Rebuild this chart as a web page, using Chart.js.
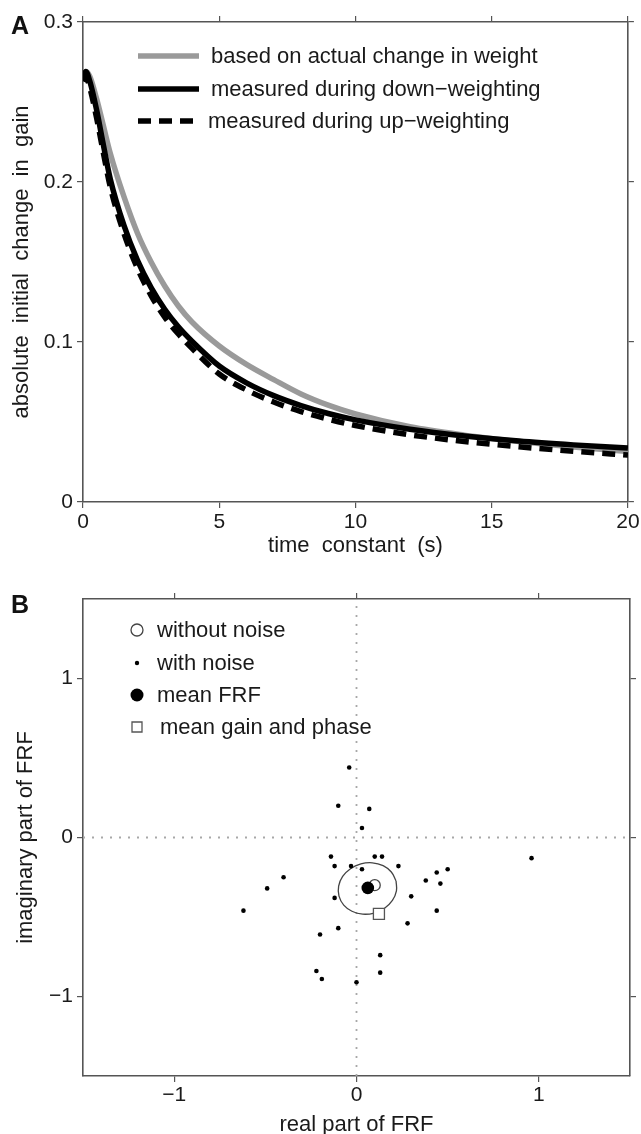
<!DOCTYPE html>
<html>
<head>
<meta charset="utf-8">
<title>Gain change and FRF</title>
<script src="https://cdn.jsdelivr.net/npm/chart.js@4.4.0/dist/chart.umd.min.js"></script>
<style>
    html, body { margin: 0; padding: 0; background: #fff; overflow: hidden; }
    #page { position: relative; width: 641px; height: 1134px; overflow: hidden; }
    canvas { position: absolute; left: 0; }
    #chartA { top: 0; }
    #chartB { top: 560px; }
    .panel { position: absolute; font: bold 25px "Liberation Sans", Arial, sans-serif; line-height: 1; color: #111; }
</style>
</head>
<body>
<div id="page">
    <canvas id="chartA" width="641" height="560"></canvas>
    <canvas id="chartB" width="641" height="600"></canvas>
    <div class="panel" style="left:11px;top:13px">A</div>
    <div class="panel" style="left:11px;top:592px">B</div>
</div>
<script>
// ---- panel A: absolute initial change in gain vs time constant ----
const timeConst  = [0, 0.1, 0.25, 0.5, 0.75, 1, 1.5, 2, 2.5, 3, 3.5, 4, 5, 6, 7, 8, 9, 10, 12, 14, 16, 18, 20];
const gainActual = [0.266, 0.269, 0.266, 0.252, 0.235, 0.218, 0.191, 0.168, 0.150, 0.135, 0.1225, 0.1125, 0.0975, 0.0860, 0.0765, 0.0675, 0.0605, 0.0550, 0.0470, 0.0418, 0.0378, 0.0344, 0.0315];
const gainDown   = [0.266, 0.269, 0.263, 0.245, 0.223, 0.202, 0.173, 0.151, 0.134, 0.1205, 0.1095, 0.1005, 0.0850, 0.0745, 0.0665, 0.0603, 0.0553, 0.0513, 0.0455, 0.0413, 0.0381, 0.0357, 0.0337];
const gainUp     = [0.263, 0.266, 0.259, 0.240, 0.218, 0.197, 0.168, 0.146, 0.129, 0.1155, 0.105, 0.096, 0.080, 0.0700, 0.0625, 0.0565, 0.0518, 0.0478, 0.0420, 0.0378, 0.0345, 0.0317, 0.0293];
const xTicksA = [0, 5, 10, 15, 20];
const xTickLabelsA = ["0", "5", "10", "15", "20"];
const yTicksA = [0, 0.1, 0.2, 0.3];
const yTickLabelsA = ["0", "0.1", "0.2", "0.3"];

// ---- panel B: real / imaginary part of FRF ----
const noiseRe = [-0.04, -0.10, 0.07, 0.03, -0.14, 0.10, 0.14, -0.12, -0.03, 0.03, 0.23, 0.50, 0.44, -0.40, 0.38, 0.46, -0.49, -0.12, 0.30, -0.62, 0.44, 0.28, -0.10, -0.20, 0.13, 0.13, -0.22, -0.19, 0.96, 0.00];
const noiseIm = [0.44, 0.20, 0.18, 0.06, -0.12, -0.12, -0.12, -0.18, -0.18, -0.20, -0.18, -0.20, -0.22, -0.25, -0.27, -0.29, -0.32, -0.38, -0.37, -0.46, -0.46, -0.54, -0.57, -0.61, -0.74, -0.85, -0.84, -0.89, -0.13, -0.91];
const cleanRe = [0.10];
const cleanIm = [-0.30];
const meanFrfRe = [0.062];
const meanFrfIm = [-0.317];
const meanGainRe = [0.123];
const meanGainIm = [-0.48];
// spread ellipse round the mean FRF (closed loop)
const ellRe = [0.217, 0.219, 0.197, 0.154, 0.097, 0.034, -0.025, -0.070, -0.096, -0.098, -0.076, -0.033, 0.024, 0.087, 0.146, 0.191, 0.217];
const ellIm = [-0.273, -0.336, -0.396, -0.445, -0.475, -0.482, -0.464, -0.425, -0.369, -0.306, -0.245, -0.196, -0.166, -0.159, -0.177, -0.217, -0.273];
const axisSpanB = [-1.5, 1.5];
const ticksB = [-1, 0, 1];
const tickLabelsB = ["\u22121", "0", "1"];

const FONT = '"Liberation Sans", Arial, Helvetica, sans-serif';
const INK = "#1a1a1a";
const AXIS = "#555";

function pts(xs, ys) {
    return xs.map((x, i) => ({ x: x, y: ys[i] }));
}

function setTicks(values) {
    return function (scale) {
        scale.ticks = values.map(v => ({ value: v }));
    };
}

function fixSize(n) {
    return function (scale) {
        if (scale.isHorizontal()) scale.height = n;
        else scale.width = n;
    };
}

// an axis of the box: tick marks outside, labels only where asked
function boxAxis(position, min, max, ticks, size, labels, title, tickPad, titlePad) {
    const axis = {
        type: "linear",
        position: position,
        min: min,
        max: max,
        afterBuildTicks: setTicks(ticks),
        afterFit: fixSize(size),
        grid: { drawOnChartArea: false, drawTicks: true, tickLength: 6, color: AXIS, lineWidth: 1.2 },
        border: { display: true, color: AXIS, width: 1.6 },
        ticks: { display: false }
    };
    if (labels) {
        axis.ticks = {
            display: true,
            padding: tickPad,
            color: INK,
            font: { family: FONT, size: 21 },
            maxRotation: 0,
            autoSkip: false,
            callback: (v, i) => labels[i]
        };
    }
    if (title) {
        axis.title = {
            display: true,
            text: title,
            color: INK,
            font: { family: FONT, size: 22 },
            padding: titlePad
        };
    }
    return axis;
}

// legend drawn inside the plot box
const insideLegend = {
    id: "insideLegend",
    afterDatasetsDraw(chart, args, opts) {
        if (!opts || !opts.rows) return;
        const ctx = chart.ctx;
        ctx.save();
        ctx.font = "22px " + FONT;
        ctx.textBaseline = "middle";
        chart.data.datasets.forEach(ds => {
            if (ds.legendRow === undefined) return;
            const y = opts.rows[ds.legendRow];
            if (opts.kind === "line") {
                ctx.save();
                ctx.strokeStyle = ds.borderColor;
                ctx.lineWidth = ds.borderWidth;
                ctx.setLineDash(ds.borderDash || []);
                ctx.beginPath();
                ctx.moveTo(opts.left, y);
                ctx.lineTo(opts.left + opts.sample, y);
                ctx.stroke();
                ctx.restore();
            } else {
                ctx.save();
                ctx.fillStyle = ds.backgroundColor;
                ctx.strokeStyle = ds.borderColor;
                ctx.lineWidth = ds.borderWidth;
                ctx.beginPath();
                if (ds.pointStyle === "rect") {
                    ctx.rect(opts.left - 5, y - 5, 10, 10);
                } else {
                    ctx.arc(opts.left, y, ds.legendRadius, 0, Math.PI * 2);
                }
                ctx.fill();
                if (ds.borderWidth > 0) ctx.stroke();
                ctx.restore();
            }
            ctx.fillStyle = INK;
            ctx.fillText(ds.label, opts.textX[ds.legendRow], y + 1);
        });
        ctx.restore();
    }
};

new Chart(document.getElementById("chartA"), {
    type: "line",
    data: {
        datasets: [
            {
                label: "based on actual change in weight",
                data: pts(timeConst, gainActual),
                borderColor: "#9a9a9a",
                borderWidth: 5.5,
                order: 3,
                legendRow: 0
            },
            {
                label: "measured during down\u2212weighting",
                data: pts(timeConst, gainDown),
                borderColor: "#000",
                borderWidth: 5.5,
                order: 1,
                legendRow: 1
            },
            {
                label: "measured during up\u2212weighting",
                data: pts(timeConst, gainUp),
                borderColor: "#000",
                borderWidth: 5.5,
                borderDash: [13, 8],
                order: 2,
                legendRow: 2
            }
        ]
    },
    options: {
        responsive: false,
        animation: false,
        devicePixelRatio: 1,
        layout: { padding: { top: 16, right: 6, bottom: 0, left: 0 } },
        elements: {
            point: { radius: 0 },
            line: { cubicInterpolationMode: "monotone", fill: false }
        },
        scales: {
            x: boxAxis("bottom", 0, 20, xTicksA, 58, xTickLabelsA, "time  constant  (s)", 1.4, { top: 0, bottom: 0.8 }),
            y: boxAxis("left", 0, 0.3, yTicksA, 83, yTickLabelsA, "absolute  initial  change  in  gain", 4, { top: 8.8, bottom: 0 }),
            x2: boxAxis("top", 0, 20, xTicksA, 6),
            y2: boxAxis("right", 0, 0.3, yTicksA, 6)
        },
        plugins: {
            legend: { display: false },
            tooltip: { enabled: false },
            insideLegend: { kind: "line", left: 138, sample: 61, rows: [56, 89, 121], textX: [211, 211, 208] }
        }
    },
    plugins: [insideLegend]
});

new Chart(document.getElementById("chartB"), {
    type: "scatter",
    data: {
        datasets: [
            {
                label: "without noise",
                data: pts(cleanRe, cleanIm),
                pointRadius: 5.5,
                legendRadius: 6,
                backgroundColor: "#fff",
                borderColor: "#444",
                borderWidth: 1.3,
                order: 2,
                legendRow: 0
            },
            {
                label: "with noise",
                data: pts(noiseRe, noiseIm),
                pointRadius: 2.3,
                legendRadius: 2.2,
                backgroundColor: "#000",
                borderColor: "#000",
                borderWidth: 0,
                order: 4,
                legendRow: 1
            },
            {
                label: "mean FRF",
                data: pts(meanFrfRe, meanFrfIm),
                pointRadius: 6.3,
                legendRadius: 6.5,
                backgroundColor: "#000",
                borderColor: "#000",
                borderWidth: 0,
                order: 1,
                legendRow: 2
            },
            {
                label: "mean gain and phase",
                data: pts(meanGainRe, meanGainIm),
                pointStyle: "rect",
                pointRadius: 7.8,
                backgroundColor: "#fff",
                borderColor: "#555",
                borderWidth: 1.3,
                order: 3,
                legendRow: 3
            },
            {
                label: "ellipse",
                data: pts(ellRe, ellIm),
                showLine: true,
                tension: 0.4,
                pointRadius: 0,
                borderColor: "#444",
                borderWidth: 1.3,
                order: 5
            },
            {
                label: "zero real",
                data: pts([0, 0], axisSpanB),
                showLine: true,
                pointRadius: 0,
                borderColor: "#a8a8a8",
                borderWidth: 1.8,
                borderDash: [2, 7],
                order: 6
            },
            {
                label: "zero imag",
                data: pts(axisSpanB, [0, 0]),
                showLine: true,
                pointRadius: 0,
                borderColor: "#a8a8a8",
                borderWidth: 1.8,
                borderDash: [2, 7],
                order: 6
            }
        ]
    },
    options: {
        responsive: false,
        animation: false,
        devicePixelRatio: 1,
        layout: { padding: { top: 33, right: 5, bottom: 0, left: 0 } },
        scales: {
            x: boxAxis("bottom", -1.5, 1.5, ticksB, 84, tickLabelsB, "real part of FRF", 0.4, { top: 0, bottom: 21.8 }),
            y: boxAxis("left", -1.5, 1.5, ticksB, 83, tickLabelsB, "imaginary part of FRF", 4, { top: 12.8, bottom: 0 }),
            x2: boxAxis("top", -1.5, 1.5, ticksB, 6),
            y2: boxAxis("right", -1.5, 1.5, ticksB, 6)
        },
        plugins: {
            legend: { display: false },
            tooltip: { enabled: false },
            insideLegend: { kind: "marker", left: 137, rows: [630 - 560, 663 - 560, 695 - 560, 727 - 560], textX: [157, 157, 157, 160] }
        }
    },
    plugins: [insideLegend]
});
</script>
</body>
</html>
